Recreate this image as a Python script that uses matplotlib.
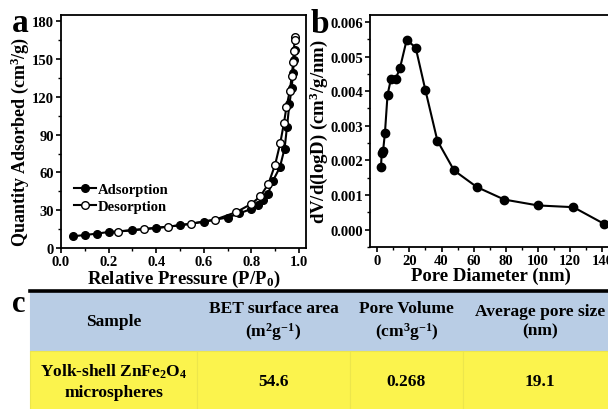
import matplotlib
matplotlib.use("Agg")
import matplotlib.pyplot as plt
from matplotlib.ticker import MultipleLocator, FormatStrFormatter

# panel a: N2 isotherm
ads_p = [0.05, 0.10, 0.15, 0.20, 0.30, 0.40, 0.50, 0.60, 0.70, 0.75, 0.80, 0.83, 0.85,
         0.87, 0.89, 0.92, 0.94, 0.95, 0.96, 0.97, 0.975, 0.98, 0.983]
ads_q = [9.3, 10.3, 11.4, 12.7, 14.1, 15.9, 18.0, 20.9, 24.2, 27.5, 31.0, 34.5, 38.5,
         43.0, 53.0, 64.0, 79.0, 96.0, 114.0, 127.0, 139.0, 149.0, 157.0]
des_p = [0.984, 0.982, 0.979, 0.976, 0.970, 0.962, 0.948, 0.937, 0.922, 0.900, 0.872,
         0.838, 0.800, 0.737, 0.648, 0.548, 0.449, 0.349, 0.240]
des_q = [167.5, 165.0, 156.5, 147.5, 136.5, 125.0, 112.0, 99.0, 83.5, 66.0, 51.0,
         41.0, 35.0, 28.5, 22.5, 19.3, 16.9, 15.1, 13.0]

# panel b: pore size distribution
pore_d = [2.3, 2.8, 3.6, 4.8, 6.4, 8.5, 11.4, 14.1, 18.3, 23.9, 29.9, 37.4, 47.8,
          62.0, 79.0, 100.0, 122.0, 141.0]
pore_v = [0.00180, 0.00222, 0.00226, 0.00280, 0.00389, 0.00435, 0.00435, 0.00466,
          0.00548, 0.00526, 0.00404, 0.00257, 0.00171, 0.00123, 0.00087, 0.00070,
          0.00065, 0.00017]

# panel c: table
col_labels = ["Sample", "BET surface area\n(m$^{2}$g$^{-1}$)",
              "Pore Volume\n(cm$^{3}$g$^{-1}$)", "Average pore size\n(nm)"]
row_values = ["Yolk-shell ZnFe$_{2}$O$_{4}$\nmicrospheres", "54.6", "0.268", "19.1"]

plt.rcParams["font.family"] = "Liberation Serif"
plt.rcParams["font.weight"] = "bold"
plt.rcParams["mathtext.fontset"] = "custom"
plt.rcParams["mathtext.rm"] = "Liberation Serif:bold"
plt.rcParams["mathtext.it"] = "Liberation Serif:bold"
plt.rcParams["mathtext.bf"] = "Liberation Serif:bold"

W, H = 608, 410
fig = plt.figure(figsize=(W / 100, H / 100), dpi=100)


def box(l, t, r, b):
    return [l / W, 1 - b / H, (r - l) / W, (b - t) / H]


def style(ax):
    for s in ax.spines.values():
        s.set_linewidth(1.3)
    ax.tick_params(which="major", direction="out", length=3.5, width=1.2, labelsize=10.5, pad=1.5)
    ax.tick_params(which="minor", direction="out", length=2.2, width=1.0)
    for lab in ax.get_xticklabels() + ax.get_yticklabels():
        lab.set_fontweight("bold")


# ---- a ----
ax1 = fig.add_axes(box(61, 16, 306, 249))
ax1.plot(ads_p, ads_q, "-o", color="black", lw=1.5, ms=5.5, mfc="black",
         mec="black", label="Adsorption")
ax1.plot(des_p, des_q, "-o", color="black", lw=1.5, ms=5.5, mfc="white",
         mec="black", label="Desorption")
ax1.set_xlim(0, 1.03)
ax1.set_ylim(0, 185)
ax1.xaxis.set_major_locator(MultipleLocator(0.2))
ax1.xaxis.set_minor_locator(MultipleLocator(0.1))
ax1.xaxis.set_major_formatter(FormatStrFormatter("%.1f"))
ax1.yaxis.set_major_locator(MultipleLocator(30))
ax1.yaxis.set_minor_locator(MultipleLocator(15))
style(ax1)
ax1.set_xlabel("Relative Pressure (P/P$_{0}$)", fontsize=13.5, fontweight="bold", labelpad=0)
ax1.set_ylabel("Quantity Adsorbed (cm$^{3}$/g)", fontsize=13, fontweight="bold")
ax1.yaxis.set_label_coords(-0.122, 0.46)
ax1.legend(loc="center left", bbox_to_anchor=(0.0, 0.215), frameon=False,
           handlelength=1.5, handletextpad=0.15, labelspacing=0.3,
           prop={"family": "Liberation Serif", "weight": "bold", "size": 10.5})
fig.text(12 / W, 1 - 32 / H, "a", fontsize=24, fontweight="bold")

# ---- b ----
ax2 = fig.add_axes(box(370, 16, 612, 248))
ax2.plot(pore_d, pore_v, "-o", color="black", lw=1.5, ms=6)
ax2.set_xlim(-4.5, 146)
ax2.set_ylim(-0.0005, 0.0062)
ax2.xaxis.set_major_locator(MultipleLocator(20))
ax2.xaxis.set_minor_locator(MultipleLocator(10))
ax2.yaxis.set_major_locator(MultipleLocator(0.001))
ax2.yaxis.set_minor_locator(MultipleLocator(0.0005))
ax2.yaxis.set_major_formatter(FormatStrFormatter("%.3f"))
style(ax2)
ax2.set_xlabel("Pore Diameter (nm)", fontsize=13.5, fontweight="bold", labelpad=0)
ax2.set_ylabel("dV/d(logD) (cm$^{3}$/g/nm)", fontsize=13.5, fontweight="bold")
ax2.yaxis.set_label_coords(-0.165, 0.5)
fig.text(311 / W, 1 - 33 / H, "b", fontsize=24, fontweight="bold")

# ---- c ----
ax3 = fig.add_axes(box(30, 292, 617, 412))
ax3.set_axis_off()
ax3.set_xlim(0, 1)
ax3.set_ylim(0, 1)
widths = [167, 153, 113, 154]
tot = sum(widths)
tbl = ax3.table(cellText=[row_values], colLabels=col_labels,
                colWidths=[w / tot for w in widths], cellLoc="center",
                bbox=[0, 0, 1, 1])
tbl.auto_set_font_size(False)
tbl.set_fontsize(12.5)
for (r, c), cell in tbl.get_celld().items():
    if r == 0:
        cell.set_facecolor("#b9cde5")
        cell.set_edgecolor("#b9cde5")
    else:
        cell.set_facecolor("#fbf34d")
        cell.set_edgecolor("#ece64c")
    cell.set_linewidth(0.8)
    cell.get_text().set_fontweight("bold")
    cell.get_text().set_linespacing(1.3)
ax3.axhline(1, color="black", lw=2.6, clip_on=False)
fig.text(12 / W, 1 - 312 / H, "c", fontsize=22, fontweight="bold")

fig.savefig("out.png", dpi=100)
